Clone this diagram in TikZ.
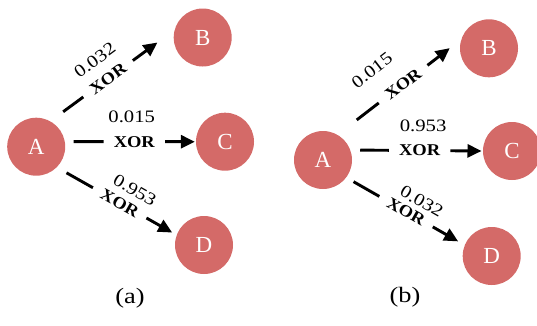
\documentclass[tikz,border=0pt]{standalone}
\usepackage{fontspec}
\setmainfont{Liberation Serif}
\usetikzlibrary{arrows.meta,calc}
\definecolor{nodered}{RGB}{212,106,104}
\begin{document}
\begin{tikzpicture}[x=1pt,y=-1pt,
  vert/.style={circle,fill=nodered,draw=none,minimum size=58pt,inner sep=0pt,text=white,font=\fontsize{23}{23}\selectfont},
  edge/.style={line width=2.9pt,-{Triangle[length=14pt,width=13pt]}},
  xorlab/.style={fill=white,inner xsep=9pt,inner ysep=0.5pt,font=\fontsize{16.5}{16.5}\selectfont\bfseries,sloped,xscale=1.12},
  numlab/.style={font=\fontsize{17.5}{17.5}\selectfont,sloped,inner sep=0pt,xscale=1.18},
  caplab/.style={font=\fontsize{22}{22}\selectfont,xscale=1.2}]
\useasboundingbox (0,0) rectangle (537,325);
% panel (a)
\node[vert] (A1) at (36.2,146.7) {A};
\node[vert] (B1) at (202.7,37.5) {B};
\node[vert] (C1) at (225,141.7) {C};
\node[vert] (D1) at (204,245) {D};
\draw[edge, shorten <=15.9pt, shorten >=21.2pt] (A1.61) -- node[xorlab,pos=0.465]{XOR} node[numlab,pos=0.468,yshift=23pt]{0.032} (B1.165);
\draw[edge, shorten <=8.6pt, shorten >=1pt] (A1.10) -- node[xorlab,pos=0.53]{XOR} node[numlab,pos=0.51,yshift=25pt]{0.015} (C1.180);
\draw[edge, shorten <=11.1pt, shorten >=5pt] (A1.-45) -- node[xorlab,pos=0.525]{XOR} node[numlab,pos=0.575,yshift=18.5pt]{0.953} (D1.160);
\node[caplab] (capa) at (130,298) {(a)};
% panel (b)
\node[vert] (A2) at (323,160) {A};
\node[vert] (B2) at (489,48.3) {B};
\node[vert] (C2) at (512,151) {C};
\node[vert] (D2) at (491.7,256) {D};
\draw[edge, shorten <=24.2pt, shorten >=14.5pt] (A2.60) -- node[xorlab,pos=0.53]{XOR} node[numlab,pos=0.426,yshift=30pt]{0.015} (B2.162);
\draw[edge, shorten <=9.8pt, shorten >=1.3pt] (A2.20) -- node[xorlab,pos=0.523]{XOR} node[numlab,pos=0.548,yshift=25pt]{0.953} (C2.180);
\draw[edge, shorten <=8.3pt, shorten >=7.4pt] (A2.-37) -- node[xorlab,pos=0.505]{XOR} node[numlab,pos=0.568,yshift=16.6pt]{0.032} (D2.158);
\node[caplab] (capb) at (405,297.5) {(b)};
\end{tikzpicture}
\end{document}
